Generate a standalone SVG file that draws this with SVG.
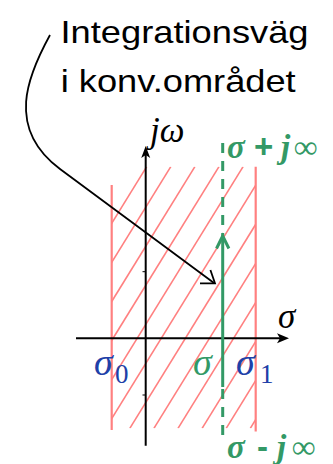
<svg xmlns="http://www.w3.org/2000/svg" width="333" height="464" viewBox="0 0 333 464">
<style>
.lbl{font-family:"Liberation Sans",Arial,sans-serif;font-size:32px;fill:#000}
.m{font-family:"Liberation Serif","Times New Roman",serif;font-style:italic}
.up{font-style:normal}
.hatch line{stroke:#ff8080;stroke-width:1.6}
.edge{stroke:#ff8080;stroke-width:2.2;fill:none}
.axis{stroke:#000;stroke-width:2;fill:none}
.g{fill:#339966}
.gb{font-weight:bold}
.gs{stroke:#339966;stroke-width:3;fill:none}
.b{fill:#2040a8}
.conn{stroke:#000;stroke-width:1.8;fill:none}
</style>
<defs>
<clipPath id="hc"><rect x="111.7" y="166.7" width="144" height="261.6"/></clipPath>
</defs>

<g id="title">
<text class="lbl" x="60.5" y="43.3" textLength="248" lengthAdjust="spacingAndGlyphs">Integrationsväg</text>
<text class="lbl" x="60.7" y="91.7" textLength="235" lengthAdjust="spacingAndGlyphs">i konv.området</text>
</g>

<g id="region">
<g class="hatch" clip-path="url(#hc)">
<line x1="146.7" y1="166.7" x2="-14.8" y2="428.3"/>
<line x1="170.8" y1="166.7" x2="9.3" y2="428.3"/>
<line x1="194.9" y1="166.7" x2="33.4" y2="428.3"/>
<line x1="219.0" y1="166.7" x2="57.5" y2="428.3"/>
<line x1="243.1" y1="166.7" x2="81.6" y2="428.3"/>
<line x1="267.2" y1="166.7" x2="105.7" y2="428.3"/>
<line x1="291.3" y1="166.7" x2="129.8" y2="428.3"/>
<line x1="315.4" y1="166.7" x2="153.9" y2="428.3"/>
<line x1="339.5" y1="166.7" x2="178.0" y2="428.3"/>
<line x1="363.6" y1="166.7" x2="202.1" y2="428.3"/>
<line x1="387.7" y1="166.7" x2="226.2" y2="428.3"/>
<line x1="411.8" y1="166.7" x2="250.3" y2="428.3"/>
</g>
<line class="edge" x1="111.7" y1="185" x2="111.7" y2="430"/>
<line class="edge" x1="255.7" y1="166.7" x2="255.7" y2="431.5"/>
</g>

<g id="axes">
<line class="axis" x1="145.7" y1="445.7" x2="145.7" y2="152"/>
<path d="M145.7,146 L141.2,158 L145.7,155 L150.2,158 Z" fill="#000"/>
<line class="axis" x1="76" y1="338.3" x2="283" y2="338.3"/>
<path d="M289,338.3 L277,333.3 L280,338.3 L277,343.3 Z" fill="#000"/>
<line x1="142.5" y1="271.7" x2="145" y2="271.7" stroke="#000" stroke-width="1"/>
<line x1="142.5" y1="395" x2="145" y2="395" stroke="#000" stroke-width="1"/>
<text class="m" x="150" y="142" font-size="35" fill="#000">jω</text>
<text class="m" x="278" y="328" font-size="35" fill="#000">σ</text>
</g>

<g id="path">
<line class="gs" x1="222.7" y1="143" x2="222.7" y2="236" stroke-dasharray="10 8"/>
<line class="gs" x1="222.7" y1="237" x2="222.7" y2="387"/>
<line class="gs" x1="222.7" y1="389" x2="222.7" y2="443" stroke-dasharray="10 8"/>
<polyline class="gs" points="216.5,248.5 222.7,236 228.9,248.5"/>
<text class="m g gb" font-size="33" y="158"><tspan x="227">σ</tspan><tspan class="up" x="254" font-family="Liberation Sans, sans-serif">+</tspan><tspan x="281">j</tspan><tspan class="up" x="294">∞</tspan></text>
<text class="m g gb" font-size="33" y="458"><tspan x="227">σ</tspan><tspan class="up" x="257" font-family="Liberation Sans, sans-serif">-</tspan><tspan x="277">j</tspan><tspan class="up" x="292">∞</tspan></text>
<text class="m g" x="193" y="375" font-size="38">σ</text>
</g>

<g id="sigma0">
<text class="m b" x="94" y="375" font-size="38">σ</text>
<text class="m up b" x="115" y="383" font-size="27">0</text>
</g>
<g id="sigma1">
<text class="m b" x="236" y="375" font-size="38">σ</text>
<text class="m up b" x="260" y="383" font-size="27">1</text>
</g>

<g id="connectors">
<path class="conn" d="M50,35 C28,75 5,128 60,169 L214,283"/>
<polyline class="conn" points="200,283.3 215,283.3 210.4,270"/>
</g>
</svg>
